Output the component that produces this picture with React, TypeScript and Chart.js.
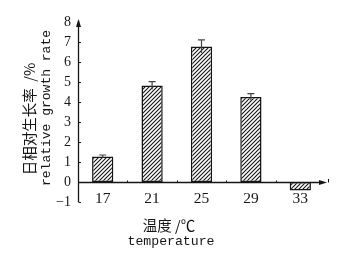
import React, { useEffect, useRef } from "react";
import { Chart, registerables } from "chart.js";

Chart.register(...registerables);

const categories = ["17", "21", "25", "29", "33"];
const growthRate = [1.28, 4.82, 6.78, 4.25, -0.43];
const errors = [0.07, 0.2, 0.33, 0.17, 0];
const yMin = -1;
const yMax = 8;
const yTitleCn = "日相对生长率  /%";
const yTitleEn = "relative growth rate";
const xTitleCn = "温度 /℃";
const xTitleEn = "temperature";

const SERIF = '"Liberation Serif", "DejaVu Serif", serif';
const MONO = '"Liberation Mono", "DejaVu Sans Mono", monospace';
const CJK = '"Noto Sans CJK SC", sans-serif';
const INK = "#151515";

function makeHatch(): CanvasPattern | string {
  const pc = document.createElement("canvas");
  pc.width = 4;
  pc.height = 4;
  const c = pc.getContext("2d");
  if (!c) return "#888";
  c.fillStyle = "#ffffff";
  c.fillRect(0, 0, 4, 4);
  c.strokeStyle = INK;
  c.lineWidth = 1.1;
  c.beginPath();
  c.moveTo(0, 4);
  c.lineTo(4, 0);
  c.moveTo(-1, 1);
  c.lineTo(1, -1);
  c.moveTo(3, 5);
  c.lineTo(5, 3);
  c.stroke();
  return c.createPattern(pc, "repeat") || "#888";
}

const decorPlugin = {
  id: "decor",
  afterDatasetsDraw(chart: any) {
    const ctx = chart.ctx as CanvasRenderingContext2D;
    const xs = chart.scales.x;
    const ys = chart.scales.y;
    const area = chart.chartArea;
    ctx.save();
    // error bars
    ctx.strokeStyle = "#444";
    ctx.lineWidth = 1.2;
    const meta = chart.getDatasetMeta(0);
    growthRate.forEach((v, i) => {
      const e = errors[i];
      if (!e) return;
      const x = meta.data[i].x;
      const yTop = ys.getPixelForValue(v + e);
      const yBot = ys.getPixelForValue(v - e);
      ctx.beginPath();
      ctx.moveTo(x, yTop);
      ctx.lineTo(x, yBot);
      ctx.moveTo(x - 3.5, yTop);
      ctx.lineTo(x + 3.5, yTop);
      ctx.stroke();
    });
    // y axis
    const ax = Math.round(area.left) + 0.5;
    ctx.strokeStyle = INK;
    ctx.fillStyle = INK;
    ctx.lineWidth = 1.3;
    ctx.beginPath();
    ctx.moveTo(ax, ys.getPixelForValue(yMin));
    ctx.lineTo(ax, area.top - 1);
    ctx.stroke();
    ctx.beginPath();
    ctx.moveTo(ax, area.top - 3);
    ctx.lineTo(ax - 2.5, area.top + 5);
    ctx.lineTo(ax + 2.5, area.top + 5);
    ctx.closePath();
    ctx.fill();
    ctx.lineWidth = 1;
    for (let t = yMin; t < yMax; t++) {
      const y = Math.round(ys.getPixelForValue(t)) + 0.5;
      ctx.beginPath();
      ctx.moveTo(ax, y);
      ctx.lineTo(ax + 2.5, y);
      ctx.stroke();
    }
    // x axis at zero
    const y0 = Math.round(ys.getPixelForValue(0)) + 0.5;
    const xEnd = area.right + 1;
    ctx.lineWidth = 1.3;
    ctx.beginPath();
    ctx.moveTo(ax, y0);
    ctx.lineTo(xEnd - 4, y0);
    ctx.stroke();
    ctx.beginPath();
    ctx.moveTo(xEnd + 1, y0);
    ctx.lineTo(xEnd - 7, y0 - 2.5);
    ctx.lineTo(xEnd - 7, y0 + 2.5);
    ctx.closePath();
    ctx.fill();
    ctx.lineWidth = 1;
    ctx.beginPath();
    ctx.moveTo(xEnd + 2.5, y0 - 3.5);
    ctx.lineTo(xEnd + 2.5, y0);
    ctx.stroke();
    // boundary marks between categories
    for (let i = 0; i < categories.length - 1; i++) {
      const xb = Math.round((xs.getPixelForTick(i) + xs.getPixelForTick(i + 1)) / 2) + 0.5;
      ctx.beginPath();
      ctx.moveTo(xb, y0 - 2);
      ctx.lineTo(xb, y0);
      ctx.stroke();
    }
    ctx.restore();
  },
  afterDraw(chart: any) {
    const ctx = chart.ctx as CanvasRenderingContext2D;
    const xs = chart.scales.x;
    const ys = chart.scales.y;
    const area = chart.chartArea;
    ctx.save();
    ctx.fillStyle = INK;
    // y tick labels
    ctx.textAlign = "right";
    ctx.textBaseline = "middle";
    ctx.font = `14px ${SERIF}`;
    for (let t = yMin; t <= yMax; t++) {
      const label = t < 0 ? "\u2212" + Math.abs(t) : String(t);
      ctx.fillText(label, area.left - 7, ys.getPixelForValue(t) + 0.5);
    }
    // x tick labels
    ctx.textAlign = "center";
    ctx.font = `15.5px ${SERIF}`;
    categories.forEach((c, i) => {
      ctx.fillText(c, xs.getPixelForTick(i), ys.getPixelForValue(yMin) - 3);
    });
    // y titles (rotated)
    ctx.save();
    ctx.translate(29, 119);
    ctx.rotate(-Math.PI / 2);
    ctx.font = `14.5px ${CJK}`;
    ctx.fillText(yTitleCn, 0, 0);
    ctx.restore();
    ctx.save();
    ctx.translate(47, 108);
    ctx.rotate(-Math.PI / 2);
    ctx.font = `13px ${MONO}`;
    ctx.fillText(yTitleEn, 0, 0);
    ctx.restore();
    // x titles
    ctx.font = `14.5px ${CJK}`;
    ctx.fillText(xTitleCn, 169, 225);
    ctx.font = `13.2px ${MONO}`;
    ctx.fillText(xTitleEn, 171, 242);
    ctx.restore();
  },
};

export default function App() {
  const ref = useRef<HTMLCanvasElement | null>(null);
  useEffect(() => {
    if (!ref.current) return;
    const hatch = makeHatch();
    const chart = new Chart(ref.current, {
      type: "bar",
      data: {
        labels: categories,
        datasets: [
          {
            data: growthRate,
            backgroundColor: hatch as any,
            borderColor: INK,
            borderWidth: 1.5,
            borderSkipped: false,
            categoryPercentage: 1,
            barPercentage: 0.43,
          },
        ],
      },
      options: {
        responsive: false,
        animation: false,
        events: [],
        layout: { padding: { top: 22, right: 20, left: 78, bottom: 58 } },
        plugins: { legend: { display: false }, tooltip: { enabled: false } },
        scales: {
          x: {
            type: "category",
            display: false,
          },
          y: {
            min: yMin,
            max: yMax,
            display: false,
            ticks: { stepSize: 1 },
          },
        },
      },
      plugins: [decorPlugin],
    });
    return () => chart.destroy();
  }, []);
  return (
    <div style={{ position: "fixed", left: 0, top: 0, width: 345, height: 260, background: "#fff" }}>
      <canvas ref={ref} width={345} height={260} />
    </div>
  );
}
